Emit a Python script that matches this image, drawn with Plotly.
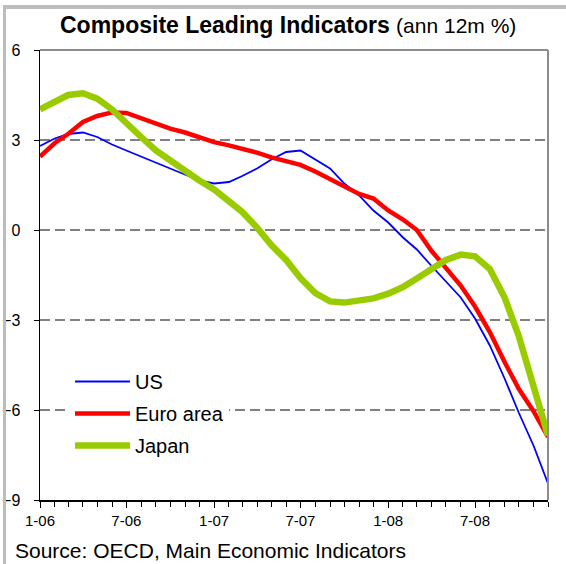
import pandas as pd
import plotly.graph_objects as go

# ---- data (monthly, Jan 2006 - Dec 2008, annualised 12m % change) ----
months = pd.date_range("2006-01-01", "2008-12-01", freq="MS")

us = [2.80, 3.05, 3.20, 3.25, 3.10, 2.85, 2.65, 2.45, 2.25, 2.05, 1.85, 1.65,
      1.55, 1.60, 1.80, 2.05, 2.35, 2.60, 2.65, 2.35, 2.05, 1.55, 1.15, 0.65,
      0.25, -0.25, -0.65, -1.20, -1.70, -2.25, -2.95, -3.85, -4.95, -6.10, -7.20, -8.45]

euro = [2.45, 2.90, 3.20, 3.60, 3.80, 3.92, 3.90, 3.72, 3.55, 3.38, 3.25, 3.10,
        2.93, 2.82, 2.72, 2.58, 2.42, 2.30, 2.17, 1.95, 1.70, 1.45, 1.20, 1.05,
        0.65, 0.35, 0.00, -0.70, -1.25, -1.85, -2.55, -3.40, -4.40, -5.30, -6.05, -6.90]

japan = [4.02, 4.30, 4.50, 4.56, 4.38, 4.02, 3.60, 3.10, 2.65, 2.30, 1.98, 1.65,
         1.35, 0.98, 0.60, 0.08, -0.50, -1.00, -1.60, -2.10, -2.38, -2.42, -2.37, -2.28,
         -2.12, -1.90, -1.62, -1.33, -1.00, -0.82, -0.88, -1.30, -2.25, -3.55, -5.15, -6.85]

series_names = ["US", "Euro area", "Japan"]

x_tick_vals = ["2006-01-01", "2006-07-01", "2007-01-01", "2007-07-01", "2008-01-01", "2008-07-01"]
x_tick_text = ["1-06", "7-06", "1-07", "7-07", "1-08", "7-08"]
y_tick_vals = [-9, -6, -3, 0, 3, 6]

# ---- figure ----
W, H = 566, 564
L, R, T, B = 40, 18, 50, 64
pw, ph = W - L - R, H - T - B


def px(x):
    return (x - L) / pw


def py(y):
    return (H - B - y) / ph


FONT = "Liberation Sans, Arial, sans-serif"

fig = go.Figure()
styles = [dict(color="#0000ff", width=1.8),
          dict(color="#ff0000", width=4.5),
          dict(color="#99cc00", width=6.5)]
for name, vals, st, grp in zip(series_names, [us, euro, japan], styles, ["a", "b", "c"]):
    fig.add_trace(go.Scatter(x=months, y=vals, mode="lines", name=name,
                             line=st, legendgroup=grp, hoverinfo="skip"))

fig.update_layout(
    width=W, height=H,
    margin=dict(l=L, r=R, t=T, b=B, autoexpand=False),
    paper_bgcolor="white", plot_bgcolor="white",
    font=dict(family=FONT, color="black"),
    showlegend=True,
    legend=dict(x=px(70), y=py(362), xanchor="left", yanchor="top",
                bgcolor="white", borderwidth=0, font=dict(size=20, family=FONT),
                itemwidth=55, tracegroupgap=3),
    xaxis=dict(type="date", range=["2006-01-01", "2008-12-01"], automargin=False,
               tickmode="array", tickvals=x_tick_vals, ticktext=x_tick_text,
               ticks="outside", ticklen=6, tickwidth=1, tickcolor="black",
               tickfont=dict(size=15, family=FONT),
               showline=True, linecolor="black", linewidth=1.5,
               showgrid=False, zeroline=False,
               minor=dict(dtick="M1", ticks="outside", ticklen=5, tickcolor="black", showgrid=False)),
    yaxis=dict(range=[-9, 6], tickmode="array", tickvals=y_tick_vals, automargin=False,
               ticks="outside", ticklen=5, tickcolor="black",
               tickfont=dict(size=16, family=FONT), ticklabelstandoff=10,
               showline=True, linecolor="black", linewidth=1.5,
               showgrid=True, gridcolor="#808080", gridwidth=1.8, griddash="10px,5px",
               zeroline=False),
)

# plot-area frame (top and right in grey)
fig.add_shape(type="line", xref="paper", yref="paper", x0=0, x1=1, y0=1, y1=1,
              line=dict(color="#8c8c8c", width=2))
fig.add_shape(type="line", xref="paper", yref="paper", x0=1, x1=1, y0=0, y1=1,
              line=dict(color="#8c8c8c", width=2))
# outer chart frame
fig.add_shape(type="line", xref="paper", yref="paper", x0=px(3), x1=px(566), y0=py(7), y1=py(7),
              line=dict(color="#bdbdbd", width=4))
fig.add_shape(type="line", xref="paper", yref="paper", x0=px(4.5), x1=px(4.5), y0=py(5), y1=py(564),
              line=dict(color="#bdbdbd", width=3))

fig.add_annotation(xref="paper", yref="paper", x=px(58), y=py(25), xanchor="left", yanchor="middle",
                   showarrow=False,
                   text="<b>Composite Leading Indicators</b> <span style='font-size:21px'>(ann 12m %)</span>",
                   font=dict(size=23, family=FONT, color="black"))
fig.add_annotation(xref="paper", yref="paper", x=px(13), y=py(550), xanchor="left", yanchor="middle",
                   showarrow=False, text="Source: OECD, Main Economic Indicators",
                   font=dict(size=21, family=FONT, color="black"))

fig.write_html("out.html", config={"displayModeBar": False, "staticPlot": True},
               post_script="document.body.style.margin='0';document.body.style.overflow='hidden';")
